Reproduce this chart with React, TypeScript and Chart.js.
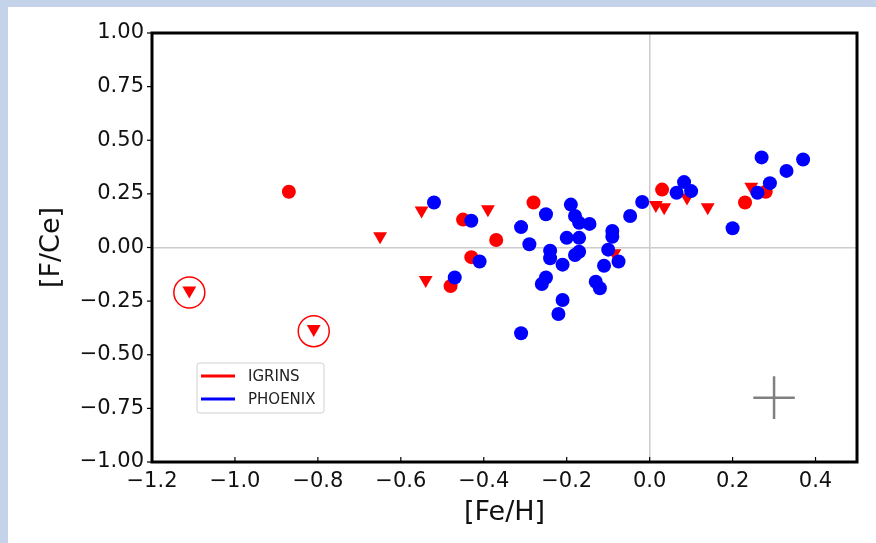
import React, { useEffect, useRef } from "react";
import { Chart, registerables } from "chart.js";

Chart.register(...registerables);

// PHOENIX sample (blue circles)
const phoenixX = [-0.52, -0.43, -0.31, -0.29, -0.25, -0.41, -0.47, -0.24, -0.24, -0.21, -0.25, -0.26, -0.21, -0.22, -0.31, -0.2, -0.17, -0.19, -0.18, -0.17, -0.145, -0.18, -0.17, -0.13, -0.12, -0.11, -0.1, -0.09, -0.09, -0.075, -0.047, -0.018, 0.065, 0.083, 0.1, 0.2, 0.26, 0.27, 0.29, 0.33, 0.37];
const phoenixY = [0.21, 0.125, 0.095, 0.015, 0.155, -0.065, -0.14, -0.015, -0.05, -0.08, -0.14, -0.17, -0.245, -0.31, -0.4, 0.045, 0.045, 0.2, 0.147, 0.115, 0.11, -0.035, -0.02, -0.16, -0.19, -0.085, -0.01, 0.077, 0.05, -0.065, 0.147, 0.212, 0.255, 0.305, 0.263, 0.09, 0.255, 0.42, 0.3, 0.357, 0.41];

// IGRINS measurements (red circles)
const igrinsX = [-0.87, -0.45, -0.28, -0.37, -0.43, -0.48, 0.03, 0.23, 0.28];
const igrinsY = [0.26, 0.13, 0.21, 0.035, -0.045, -0.18, 0.27, 0.21, 0.26];

// IGRINS upper limits (red down triangles)
const limitX = [-1.11, -0.81, -0.65, -0.55, -0.54, -0.39, 0.015, 0.035, 0.09, 0.14, 0.245, -0.085];
const limitY = [-0.2, -0.38, 0.053, 0.173, -0.152, 0.178, 0.198, 0.188, 0.233, 0.188, 0.283, -0.027];

// circled outliers
const circledX = [-1.11, -0.81];
const circledY = [-0.21, -0.39];

// typical error bar
const errX = 0.3;
const errY = -0.7;
const errDX = 0.05;
const errDY = 0.1;

const xTicks = [-1.2, -1.0, -0.8, -0.6, -0.4, -0.2, 0.0, 0.2, 0.4];
const yTicks = [-1.0, -0.75, -0.5, -0.25, 0.0, 0.25, 0.5, 0.75, 1.0];

const legendLabels = ["IGRINS", "PHOENIX"];
const legendColors = ["#ff0000", "#0000ff"];

const pts = (xs: number[], ys: number[]) => xs.map((x, i) => ({ x, y: ys[i] }));
const fmt = (v: number, d: number) => {
  const s = Math.abs(v).toFixed(d);
  return (v < -1e-9 ? "\u2212" : "") + s;
};

const FONT = "'DejaVu Sans', sans-serif";

const decorPlugin = {
  id: "decor",
  afterDraw(chart: any) {
    const { ctx, chartArea, scales } = chart;
    const xs = scales.x;
    const ys = scales.y;
    ctx.save();
    // tick marks
    ctx.strokeStyle = "#000";
    ctx.lineWidth = 1.2;
    for (const v of yTicks) {
      const py = ys.getPixelForValue(v);
      ctx.beginPath();
      ctx.moveTo(chartArea.left - 5, py);
      ctx.lineTo(chartArea.left, py);
      ctx.stroke();
    }
    for (const v of xTicks) {
      const px = xs.getPixelForValue(v);
      ctx.beginPath();
      ctx.moveTo(px, chartArea.bottom);
      ctx.lineTo(px, chartArea.bottom - 5);
      ctx.stroke();
    }
    // error cross
    ctx.strokeStyle = "#808080";
    ctx.lineWidth = 2.5;
    ctx.beginPath();
    ctx.moveTo(xs.getPixelForValue(errX - errDX), ys.getPixelForValue(errY));
    ctx.lineTo(xs.getPixelForValue(errX + errDX), ys.getPixelForValue(errY));
    ctx.moveTo(xs.getPixelForValue(errX), ys.getPixelForValue(errY - errDY));
    ctx.lineTo(xs.getPixelForValue(errX), ys.getPixelForValue(errY + errDY));
    ctx.stroke();
    // frame
    ctx.strokeStyle = "#000";
    ctx.lineWidth = 3;
    ctx.strokeRect(chartArea.left, chartArea.top, chartArea.right - chartArea.left, chartArea.bottom - chartArea.top);
    // legend
    const bx = chartArea.left + 45;
    const by = chartArea.top + 330;
    const bw = 127;
    const bh = 50;
    ctx.fillStyle = "rgba(255,255,255,0.85)";
    ctx.strokeStyle = "#d0d0d0";
    ctx.lineWidth = 1;
    ctx.beginPath();
    (ctx as any).roundRect(bx, by, bw, bh, 3);
    ctx.fill();
    ctx.stroke();
    ctx.font = `15px ${FONT}`;
    ctx.textBaseline = "middle";
    ctx.textAlign = "left";
    legendLabels.forEach((lab, i) => {
      const ly = by + 13 + i * 23;
      ctx.strokeStyle = legendColors[i];
      ctx.lineWidth = 3;
      ctx.beginPath();
      ctx.moveTo(bx + 4, ly);
      ctx.lineTo(bx + 38, ly);
      ctx.stroke();
      ctx.fillStyle = "#222";
      ctx.fillText(lab, bx + 51, ly + 1);
    });
    ctx.restore();
  },
};

export default function App() {
  const ref = useRef<HTMLCanvasElement>(null);
  useEffect(() => {
    if (!ref.current) return;
    const chart = new Chart(ref.current, {
      type: "scatter",
      data: {
        datasets: [
          {
            label: "PHOENIX",
            data: pts(phoenixX, phoenixY),
            backgroundColor: "#0000ff",
            borderWidth: 0,
            pointRadius: 7,
            order: 0,
          },
          {
            label: "IGRINS",
            data: pts(igrinsX, igrinsY),
            backgroundColor: "#ff0000",
            borderWidth: 0,
            pointRadius: 7,
            order: 1,
          },
          {
            label: "IGRINS limits",
            data: pts(limitX, limitY),
            backgroundColor: "#ff0000",
            borderWidth: 0,
            pointStyle: "triangle",
            rotation: 180,
            pointRadius: 8,
            order: 2,
          },
          {
            label: "circled",
            data: pts(circledX, circledY),
            backgroundColor: "rgba(0,0,0,0)",
            borderColor: "#ff0000",
            borderWidth: 1.5,
            pointRadius: 15.5,
            order: 3,
          },
        ],
      },
      options: {
        animation: false,
        responsive: false,
        events: [],
        layout: { padding: { top: 26, right: 19, left: 0, bottom: 0 } },
        plugins: { legend: { display: false }, tooltip: { enabled: false } },
        scales: {
          x: {
            type: "linear",
            min: -1.2,
            max: 0.5,
            afterBuildTicks: (s: any) => {
              s.ticks = xTicks.map((v) => ({ value: v }));
            },
            afterFit: (s: any) => {
              s.height = 81;
            },
            ticks: {
              callback: (v: any) => fmt(Number(v), 1),
              font: { family: FONT, size: 21 },
              color: "#111",
              padding: 7,
              maxRotation: 0,
              autoSkip: false,
            },
            grid: {
              drawTicks: false,
              color: (c: any) => (c.tick && Math.abs(c.tick.value) < 1e-9 ? "#cccccc" : "rgba(0,0,0,0)"),
              lineWidth: 1.5,
            },
            border: { display: false },
            title: {
              display: true,
              text: "[Fe/H]",
              font: { family: FONT, size: 27 },
              color: "#111",
              padding: { top: 0, bottom: 14 },
            },
          },
          y: {
            type: "linear",
            min: -1,
            max: 1,
            afterBuildTicks: (s: any) => {
              s.ticks = yTicks.map((v) => ({ value: v }));
            },
            afterFit: (s: any) => {
              s.width = 144;
            },
            ticks: {
              callback: (v: any) => fmt(Number(v), 2),
              font: { family: FONT, size: 21 },
              color: "#111",
              padding: 8,
              autoSkip: false,
            },
            grid: {
              drawTicks: false,
              color: (c: any) => (c.tick && Math.abs(c.tick.value) < 1e-9 ? "#cccccc" : "rgba(0,0,0,0)"),
              lineWidth: 1.5,
            },
            border: { display: false },
            title: {
              display: true,
              text: "[F/Ce]",
              font: { family: FONT, size: 27 },
              color: "#111",
              padding: { top: 28, bottom: 0 },
            },
          },
        },
      },
      plugins: [decorPlugin],
    } as any);
    return () => chart.destroy();
  }, []);

  return (
    <div style={{ position: "fixed", left: 0, top: 0, width: 876, height: 543, background: "#c5d3ea" }}>
      <div style={{ position: "absolute", left: 8, top: 7, width: 868, height: 536, background: "#ffffff" }}>
        <canvas ref={ref} width={868} height={536} style={{ width: 868, height: 536, display: "block" }} />
      </div>
    </div>
  );
}
